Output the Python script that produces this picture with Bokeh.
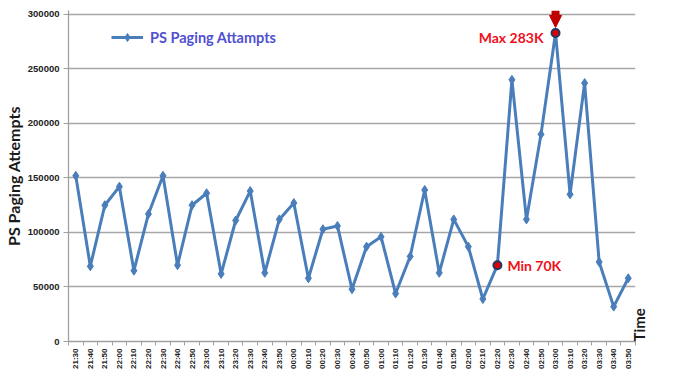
import math
from bokeh.plotting import figure
from bokeh.models import (Range1d, FixedTicker, NumeralTickFormatter, Legend, LegendItem,
                          LinearAxis, Arrow, NormalHead, ColumnDataSource)
from bokeh.embed import file_html
from bokeh.resources import INLINE

times = ["21:30", "21:40", "21:50", "22:00", "22:10", "22:20", "22:30", "22:40", "22:50",
         "23:00", "23:10", "23:20", "23:30", "23:40", "23:50", "00:00", "00:10", "00:20",
         "00:30", "00:40", "00:50", "01:00", "01:10", "01:20", "01:30", "01:40", "01:50",
         "02:00", "02:10", "02:20", "02:30", "02:40", "02:50", "03:00", "03:10", "03:20",
         "03:30", "03:40", "03:50"]
attempts = [152000, 69000, 125000, 142000, 65000, 117000, 152000, 70000, 125000,
            136000, 62000, 111000, 138000, 63000, 112000, 127000, 58000, 103000,
            106000, 48000, 87000, 96000, 44000, 78000, 139000, 63000, 112000,
            87000, 39000, 70000, 240000, 112000, 190000, 283000, 135000, 237000,
            73000, 32000, 58000]
y_ticks = [0, 50000, 100000, 150000, 200000, 250000, 300000]
max_label = "Max 283K"
min_label = "Min 70K"
max_time = "03:00"
min_time = "02:20"
series_name = "PS Paging Attampts"
x_title = "Time"

idx = list(range(len(times)))
max_i = times.index(max_time)
min_i = times.index(min_time)

FONT = "Liberation Sans"
LINE = "#4A7EBB"

p = figure(width=659, height=371, output_backend="svg", toolbar_location=None,
           x_range=Range1d(-0.5, len(times) - 0.5), y_range=Range1d(0, 303600),
           min_border_left=0, min_border_top=10, min_border_right=0, min_border_bottom=27)
p.outline_line_color = None
p.xgrid.grid_line_color = None
p.ygrid.grid_line_color = "#A6A6A6"
p.ygrid.grid_line_width = 1.3
p.ygrid.ticker = FixedTicker(ticks=y_ticks)

xa = p.xaxis[0]
xa.ticker = FixedTicker(ticks=idx, minor_ticks=[i - 0.5 for i in range(len(times) + 1)])
xa.major_label_overrides = {i: t for i, t in enumerate(times)}
xa.major_label_orientation = math.pi / 2
xa.major_tick_out = 0
xa.major_tick_in = 0
xa.minor_tick_out = 4
xa.minor_tick_in = 0
xa.minor_tick_line_color = "#A0A0A0"
xa.axis_line_color = "#A0A0A0"
xa.axis_line_width = 1.3
xa.major_label_text_font = FONT
xa.major_label_text_font_style = "bold"
xa.major_label_text_font_size = "8px"
xa.major_label_text_color = "#222222"
xa.major_label_standoff = 3

ya = p.yaxis[0]
ya.ticker = FixedTicker(ticks=y_ticks)
ya.formatter = NumeralTickFormatter(format="0")
ya.major_tick_out = 5
ya.major_tick_in = 0
ya.minor_tick_out = 0
ya.minor_tick_in = 0
ya.major_tick_line_color = "#A0A0A0"
ya.axis_line_color = "#A0A0A0"
ya.axis_line_width = 1.3
ya.major_label_text_font = FONT
ya.major_label_text_font_style = "bold"
ya.major_label_text_font_size = "9.5px"
ya.major_label_text_color = "#222222"
ya.major_label_standoff = 4
ya.axis_label = "PS Paging Attempts"
ya.axis_label_text_font = "Lato"
ya.axis_label_text_font_style = "bold"
ya.axis_label_text_font_size = "16px"
ya.axis_label_text_color = "#1a1a1a"
ya.axis_label_standoff = 2

# right-hand "Time" title, drawn as the single label of an extra axis
p.extra_y_ranges = {"title": Range1d(0, 1)}
ta = LinearAxis(y_range_name="title", ticker=FixedTicker(ticks=[0]),
                major_label_overrides={0: x_title})
ta.major_label_orientation = math.pi / 2
ta.axis_line_color = None
ta.major_tick_line_color = None
ta.minor_tick_line_color = None
ta.major_tick_out = 0
ta.major_tick_in = 0
ta.minor_tick_out = 0
ta.minor_tick_in = 0
ta.major_label_standoff = 3
ta.major_label_text_font = "Lato"
ta.major_label_text_font_style = "bold"
ta.major_label_text_font_size = "15px"
ta.major_label_text_color = "#1a1a1a"
p.add_layout(ta, "right")

src = ColumnDataSource(dict(x=idx, y=attempts))
lr = p.line("x", "y", source=src, line_color=LINE, line_width=3)
sr = p.scatter("x", "y", source=src, marker="diamond", size=9, fill_color=LINE, line_color=LINE)

# highlighted extremes
hl = ColumnDataSource(dict(x=[max_i, min_i], y=[attempts[max_i], attempts[min_i]]))
p.scatter("x", "y", source=hl, marker="circle", size=8, fill_color="#E00000",
          line_color="#1F3864", line_width=2)

p.text(x=[max_i], y=[attempts[max_i]], text=[max_label], text_align="right",
       text_baseline="middle", x_offset=-12, y_offset=5, text_color="#F01020",
       text_font_size="14px", text_font_style="bold", text_font={"value": "Lato"})
p.text(x=[min_i], y=[attempts[min_i]], text=[min_label], text_align="left",
       text_baseline="middle", x_offset=10, y_offset=0, text_color="#F01020",
       text_font_size="14px", text_font_style="bold", text_font={"value": "Lato"})

arrow = Arrow(end=NormalHead(size=12, fill_color="#C00000", line_color="#C00000"),
              x_start=max_i, y_start=attempts[max_i] + 20600,
              x_end=max_i, y_end=attempts[max_i] + 5000,
              line_color="#C00000", line_width=8)
p.add_layout(arrow)

legend = Legend(items=[LegendItem(label=series_name, renderers=[lr, sr])],
                location=(43, 294), padding=0, margin=0, spacing=0,
                glyph_width=32, glyph_height=20, label_height=20, label_standoff=7,
                label_text_font="Lato", label_text_font_style="bold",
                label_text_font_size="14.5px", label_text_color="#5050D0",
                background_fill_alpha=0, border_line_color=None)
p.add_layout(legend)

open("out.html", "w").write(file_html(p, INLINE))
